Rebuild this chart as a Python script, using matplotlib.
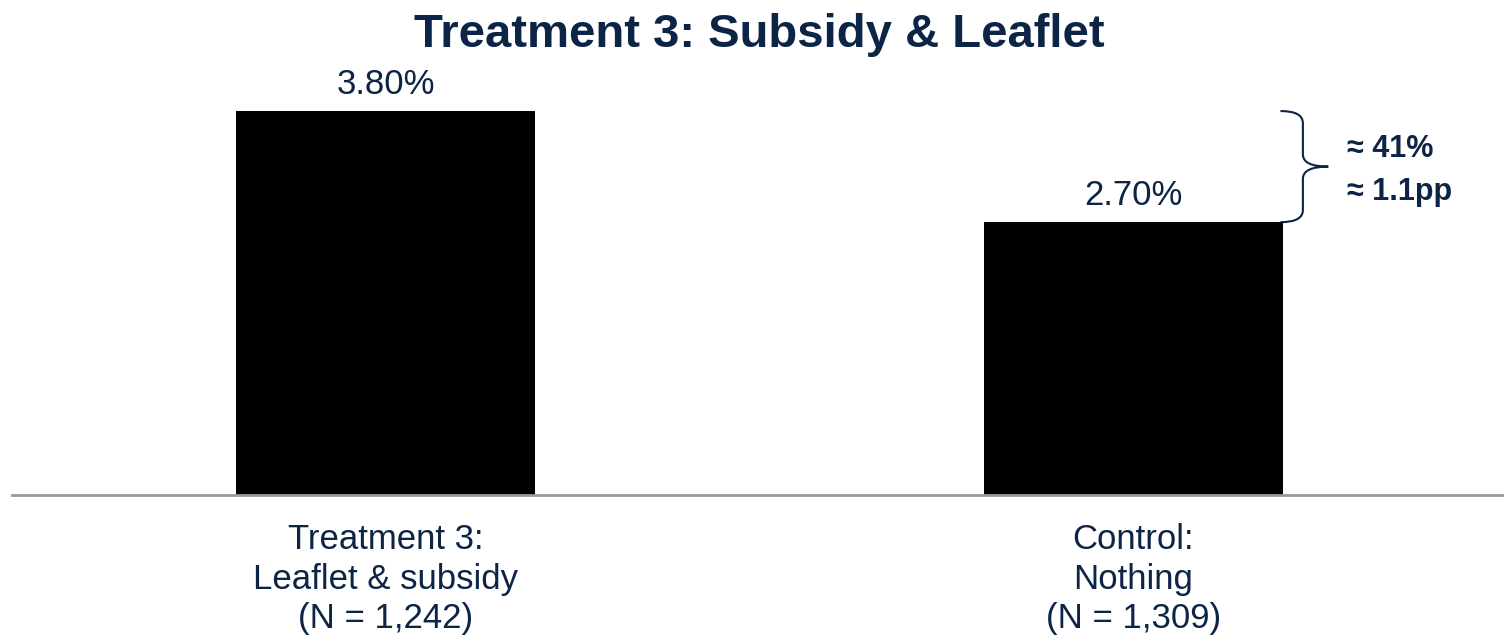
import numpy as np
import matplotlib
matplotlib.use("Agg")
import matplotlib.pyplot as plt
from matplotlib.path import Path
from matplotlib.patches import PathPatch

plt.rcParams['font.family'] = ['Liberation Sans', 'DejaVu Sans']

navy = '#0c2446'

categories = ['Treatment 3:\nLeaflet & subsidy\n(N = 1,242)', 'Control:\nNothing\n(N = 1,309)']
values = [3.80, 2.70]
value_labels = ['3.80%', '2.70%']
diff_labels = ['\u2248 41%', '\u2248 1.1pp']

fig = plt.figure(figsize=(15.04, 6.35), dpi=100)
ax = fig.add_axes([12 / 1504, 140 / 635, 1492 / 1504, 435 / 635])

x = np.arange(len(values))
ax.bar(x, values, width=0.4, color='black', zorder=2)
ax.set_xlim(-0.4997, 1.496)
ax.set_ylim(0, 4.305)

for xi, v, lab in zip(x, values, value_labels):
    ax.text(xi, v + 0.17, lab, ha='center', va='baseline', fontsize=25, color=navy)

# category labels under the baseline
for xi, cat in zip(x, categories):
    ax.text(xi, -0.28, cat, ha='center', va='top', fontsize=25, color=navy,
            linespacing=1.24)

for s in ['top', 'right', 'left']:
    ax.spines[s].set_visible(False)
ax.spines['bottom'].set_color('#9a9a9a')
ax.spines['bottom'].set_linewidth(2)
ax.set_xticks([])
ax.set_yticks([])

# curly brace spanning the gap between the two bars
lo, hi = min(values), max(values)
mid = (lo + hi) / 2
x0, x1, x2 = 1.197, 1.227, 1.261
r = 0.12
verts = [
    (x0, hi), (x1, hi), (x1, hi - r),
    (x1, mid + r),
    (x1, mid), (x2, mid), (x2, mid),
    (x2, mid), (x1, mid), (x1, mid - r),
    (x1, lo + r),
    (x1, lo), (x0, lo), (x0, lo),
]
codes = [
    Path.MOVETO, Path.CURVE3, Path.CURVE3,
    Path.LINETO,
    Path.CURVE3, Path.CURVE3, Path.LINETO,
    Path.MOVETO, Path.CURVE3, Path.CURVE3,
    Path.LINETO,
    Path.CURVE3, Path.CURVE3, Path.LINETO,
]
ax.add_patch(PathPatch(Path(verts, codes), fill=False, edgecolor=navy,
                       lw=1.5, clip_on=False))

ax.text(1.286, mid + 0.17, diff_labels[0], ha='left', va='center', fontsize=22,
        fontweight='bold', color=navy)
ax.text(1.286, mid - 0.25, diff_labels[1], ha='left', va='center', fontsize=22,
        fontweight='bold', color=navy)

fig.text(0.505, 0.945, 'Treatment 3: Subsidy & Leaflet', ha='center', va='center',
         fontsize=34, fontweight='bold', color=navy)

fig.savefig('out.png', dpi=100)
